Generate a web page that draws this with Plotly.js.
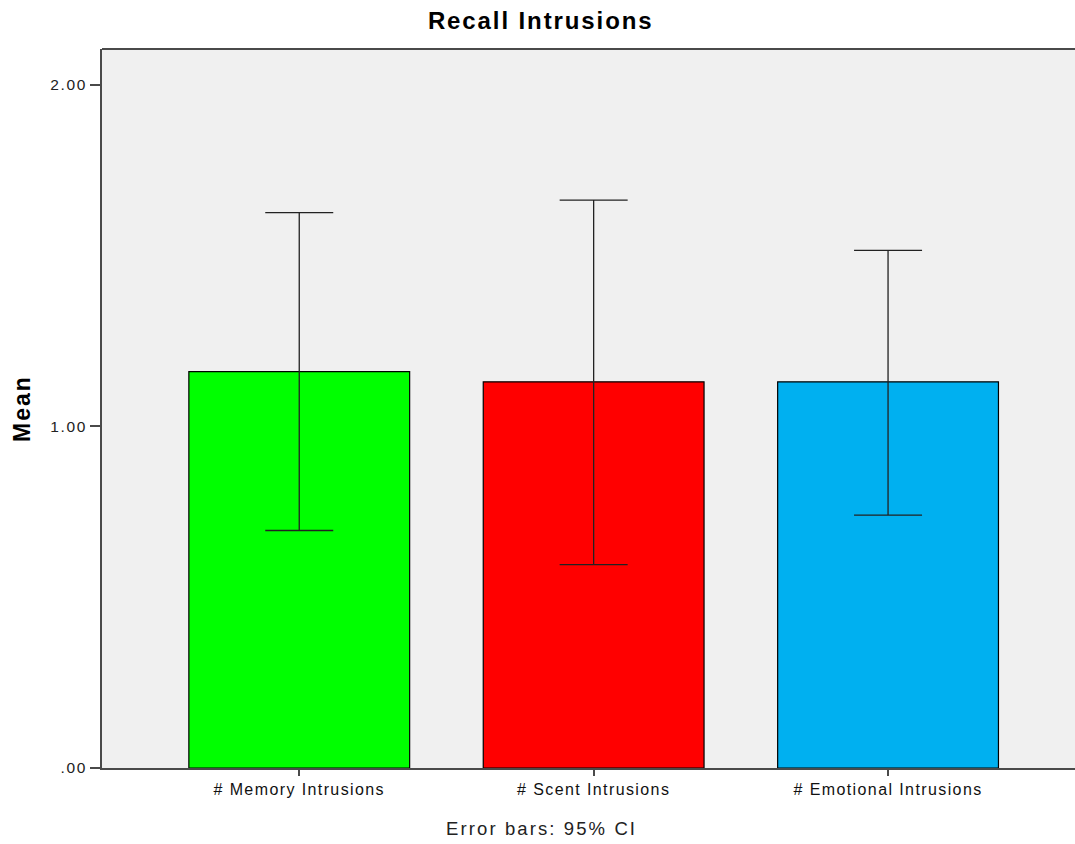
<!DOCTYPE html>
<html>
<head>
<meta charset="utf-8">
<script src="https://cdn.plot.ly/plotly-3.0.1.min.js"></script>
<style>
html,body{margin:0;padding:0;background:#fff;}
#chart{width:1075px;height:844px;}
#chart .xtick text{letter-spacing:1.4px;}
#chart .ytick text{letter-spacing:1.6px;}
#chart .gtitle{letter-spacing:1.9px;}
#chart .ytitle{letter-spacing:2px;}
#chart .annotation-text{letter-spacing:2.1px;}
</style>
</head>
<body>
<div id="chart"></div>
<script>
const categories = ['# Memory Intrusions', '# Scent Intrusions', '# Emotional Intrusions'];
const means = [1.16, 1.13, 1.13];
const ciLow = [0.695, 0.595, 0.74];
const ciHigh = [1.625, 1.662, 1.515];
const barColors = ['#00ff00', '#ff0000', '#00b0f0'];
const yTickVals = [0, 1, 2];
const yTickText = ['.00', '1.00', '2.00'];

const errPlus = means.map((m, i) => ciHigh[i] - m);
const errMinus = means.map((m, i) => m - ciLow[i]);

const trace = {
  type: 'bar',
  x: categories,
  y: means,
  width: 0.75,
  marker: {color: barColors, line: {color: '#000', width: 1.2}},
  error_y: {type: 'data', symmetric: false, array: errPlus, arrayminus: errMinus,
            color: '#222', thickness: 1.3, width: 34},
  hoverinfo: 'none'
};

const layout = {
  width: 1075, height: 844,
  margin: {l: 102, r: 0, t: 49, b: 76},
  paper_bgcolor: '#ffffff',
  plot_bgcolor: '#f0f0f0',
  font: {family: 'Arial, "Liberation Sans", sans-serif', color: '#000', size: 16},
  title: {text: '<b>Recall Intrusions</b>', x: 0.503, xanchor: 'center', y: 0.976, yanchor: 'middle',
          font: {size: 24, color: '#000'}},
  showlegend: false,
  xaxis: {
    range: [-0.67, 2.635], showgrid: false, zeroline: false,
    showline: true, linecolor: '#4a4a4a', linewidth: 2,
    ticks: 'outside', ticklen: 6, tickwidth: 2, tickcolor: '#4a4a4a',
    tickfont: {size: 16, color: '#111'}, fixedrange: true
  },
  yaxis: {
    range: [0, 2.104], showgrid: false, zeroline: false,
    showline: true, linecolor: '#4a4a4a', linewidth: 2,
    ticks: 'outside', ticklen: 10, tickwidth: 2, tickcolor: '#4a4a4a',
    tickvals: yTickVals, ticktext: yTickText,
    tickfont: {size: 15.5, color: '#222'},
    title: {text: '<b>Mean</b>', font: {size: 23, color: '#000'}, standoff: 20},
    fixedrange: true
  },
  shapes: [{type: 'line', xref: 'paper', yref: 'paper', x0: 0, x1: 1, y0: 1, y1: 1,
            line: {color: '#4a4a4a', width: 2}}],
  annotations: [{text: 'Error bars: 95% CI', xref: 'paper', yref: 'paper', x: 0.452, y: -0.084,
                 xanchor: 'center', yanchor: 'middle', showarrow: false,
                 font: {size: 18.5, color: '#222'}}]
};

Plotly.newPlot('chart', [trace], layout, {displayModeBar: false, staticPlot: true});
</script>
</body>
</html>
